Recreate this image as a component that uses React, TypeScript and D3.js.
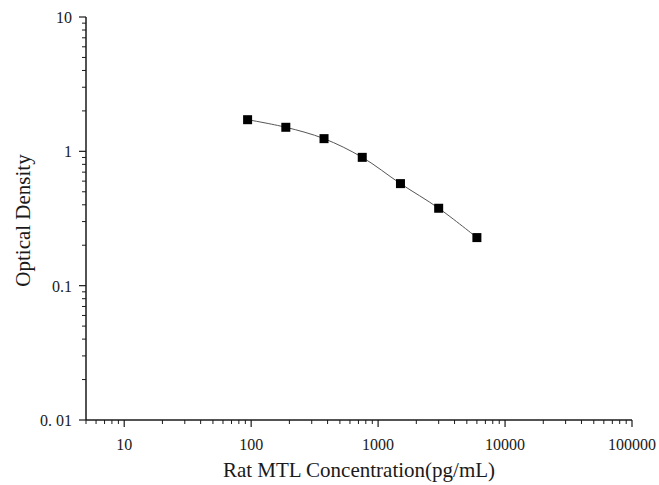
import { useRef, useEffect } from "react";
import * as d3 from "d3";

const concentrations = [93.75, 187.5, 375, 750, 1500, 3000, 6000];
const densities = [1.72, 1.51, 1.243, 0.902, 0.575, 0.377, 0.228];

const xMajorTicks = [10, 100, 1000, 10000, 100000];
const yMajorTicks = [0.01, 0.1, 1, 10];
const yTickLabels = ["0. 01", "0.1", "1", "10"];

const xTitle = "Rat MTL Concentration(pg/mL)";
const yTitle = "Optical Density";

const width = 659;
const height = 485;
const margin = { top: 17, right: 27, bottom: 65, left: 86 };
const font = "'Liberation Serif', 'Times New Roman', serif";
const ink = "#1a1a1a";

function minorTicks(lo: number, hi: number) {
  const out: number[] = [];
  for (let e = Math.floor(Math.log10(lo)); e <= Math.ceil(Math.log10(hi)); e++) {
    for (let m = 2; m < 10; m++) {
      const v = m * Math.pow(10, e);
      if (v >= lo - 1e-9 && v <= hi + 1e-9) out.push(v);
    }
  }
  return out;
}

export default function App() {
  const svgRef = useRef<SVGSVGElement>(null);

  useEffect(() => {
    if (!svgRef.current) return;
    const svg = d3.select(svgRef.current);
    svg.selectAll("*").remove();

    const x = d3
      .scaleLog()
      .domain([5, 100000])
      .range([margin.left, width - margin.right]);
    const y = d3
      .scaleLog()
      .domain([0.01, 10])
      .range([height - margin.bottom, margin.top]);

    const x0 = margin.left;
    const y0 = height - margin.bottom;

    // axis lines
    svg
      .append("line")
      .attr("x1", x0)
      .attr("x2", x0)
      .attr("y1", margin.top)
      .attr("y2", y0)
      .attr("stroke", ink)
      .attr("stroke-width", 1.5);
    svg
      .append("line")
      .attr("x1", x0)
      .attr("x2", width - margin.right)
      .attr("y1", y0)
      .attr("y2", y0)
      .attr("stroke", ink)
      .attr("stroke-width", 1.5);

    // x ticks
    svg
      .selectAll("line.xmin")
      .data(minorTicks(5, 100000))
      .join("line")
      .attr("x1", (d) => x(d))
      .attr("x2", (d) => x(d))
      .attr("y1", y0)
      .attr("y2", y0 + 4)
      .attr("stroke", ink)
      .attr("stroke-width", 1);
    svg
      .selectAll("line.xmaj")
      .data(xMajorTicks)
      .join("line")
      .attr("x1", (d) => x(d))
      .attr("x2", (d) => x(d))
      .attr("y1", y0)
      .attr("y2", y0 + 7)
      .attr("stroke", ink)
      .attr("stroke-width", 1.2);
    svg
      .selectAll("text.xlab")
      .data(xMajorTicks)
      .join("text")
      .attr("x", (d) => x(d))
      .attr("y", y0 + 30)
      .attr("text-anchor", "middle")
      .attr("font-family", font)
      .attr("font-size", 16)
      .attr("fill", ink)
      .text((d) => String(d));

    // y ticks
    svg
      .selectAll("line.ymin")
      .data(minorTicks(0.01, 10))
      .join("line")
      .attr("x1", x0)
      .attr("x2", x0 - 4)
      .attr("y1", (d) => y(d))
      .attr("y2", (d) => y(d))
      .attr("stroke", ink)
      .attr("stroke-width", 1);
    svg
      .selectAll("line.ymaj")
      .data(yMajorTicks)
      .join("line")
      .attr("x1", x0)
      .attr("x2", x0 - 7)
      .attr("y1", (d) => y(d))
      .attr("y2", (d) => y(d))
      .attr("stroke", ink)
      .attr("stroke-width", 1.2);
    svg
      .selectAll("text.ylab")
      .data(yMajorTicks)
      .join("text")
      .attr("x", x0 - 14)
      .attr("y", (d) => y(d) + 6)
      .attr("text-anchor", "end")
      .attr("font-family", font)
      .attr("font-size", 16)
      .attr("fill", ink)
      .text((_, i) => yTickLabels[i]);

    // titles
    svg
      .append("text")
      .attr("x", (x0 + width - margin.right) / 2)
      .attr("y", y0 + 57)
      .attr("text-anchor", "middle")
      .attr("font-family", font)
      .attr("font-size", 21)
      .attr("fill", ink)
      .text(xTitle);
    svg
      .append("text")
      .attr("transform", `translate(30,${(margin.top + y0) / 2 + 2}) rotate(-90)`)
      .attr("text-anchor", "middle")
      .attr("font-family", font)
      .attr("font-size", 21)
      .attr("fill", ink)
      .text(yTitle);

    // fitted curve
    const pts = concentrations.map((c, i) => [x(c), y(densities[i])] as [number, number]);
    const line = d3.line().curve(d3.curveCatmullRom.alpha(0.5));
    svg
      .append("path")
      .attr("d", line(pts))
      .attr("fill", "none")
      .attr("stroke", "#555")
      .attr("stroke-width", 1);

    const s = 9;
    svg
      .selectAll("rect.pt")
      .data(pts)
      .join("rect")
      .attr("x", (d) => d[0] - s / 2)
      .attr("y", (d) => d[1] - s / 2)
      .attr("width", s)
      .attr("height", s)
      .attr("fill", "#000");
  }, []);

  return (
    <svg
      ref={svgRef}
      width={width}
      height={height}
      style={{ position: "absolute", left: 0, top: 0, background: "#fff" }}
    />
  );
}
